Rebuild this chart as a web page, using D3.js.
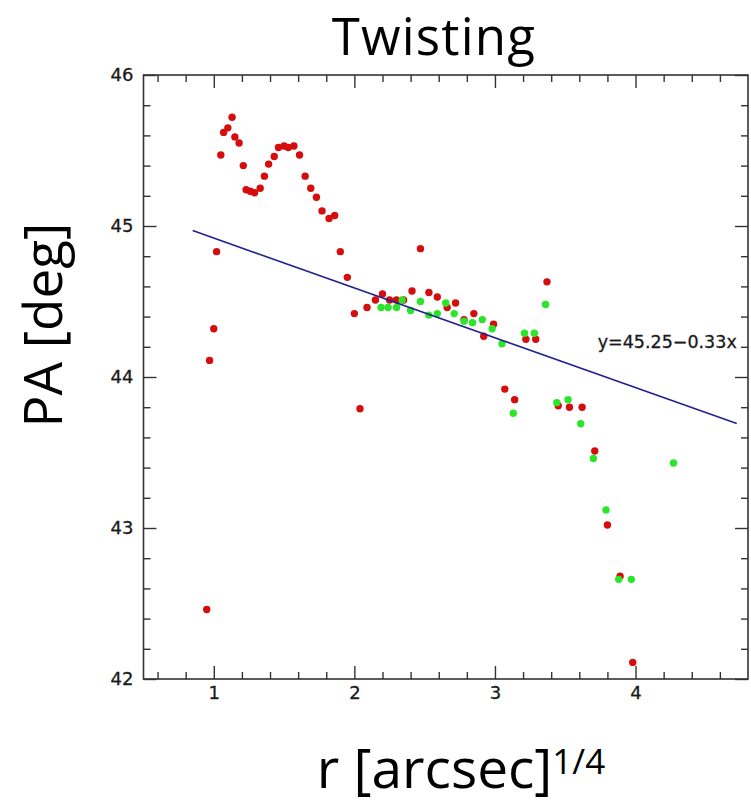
<!DOCTYPE html>
<html>
<head>
<meta charset="utf-8">
<script src="https://cdn.jsdelivr.net/npm/d3@7"></script>
<style>
  html, body { margin: 0; padding: 0; background: #fff; }
  svg { display: block; }
</style>
</head>
<body>
<script>
// Position angle profile vs r^(1/4), two measurement sets plus linear fit
const redR  = [0.95,0.97,1.00,1.02,1.05,1.07,1.10,1.13,1.15,1.18,1.21,1.23,1.26,1.29,1.33,1.36,1.39,1.43,1.46,1.50,1.53,1.57,1.61,1.65,1.69,1.73,1.77,1.82,1.86,1.90,1.95,2.00,2.04,2.09,2.15,2.20,2.25,2.30,2.35,2.41,2.47,2.53,2.59,2.66,2.72,2.78,2.85,2.92,2.99,3.07,3.14,3.22,3.29,3.37,3.45,3.53,3.62,3.71,3.80,3.89,3.98];
const redPA = [42.46,44.11,44.32,44.83,45.47,45.62,45.65,45.72,45.59,45.55,45.40,45.24,45.23,45.22,45.25,45.33,45.41,45.46,45.52,45.53,45.52,45.53,45.47,45.33,45.25,45.19,45.10,45.05,45.07,44.83,44.66,44.42,43.79,44.46,44.51,44.55,44.51,44.51,44.51,44.57,44.85,44.56,44.53,44.46,44.49,44.38,44.42,44.27,44.35,43.92,43.85,44.25,44.25,44.63,43.81,43.80,43.80,43.51,43.02,42.68,42.11];

const greenR  = [2.19,2.24,2.30,2.34,2.40,2.47,2.53,2.59,2.65,2.71,2.78,2.84,2.91,2.98,3.05,3.13,3.21,3.28,3.36,3.44,3.52,3.61,3.70,3.79,3.88,3.97,4.27];
const greenPA = [44.46,44.46,44.46,44.51,44.44,44.50,44.41,44.42,44.49,44.42,44.37,44.36,44.38,44.32,44.22,43.76,44.29,44.29,44.48,43.83,43.85,43.69,43.46,43.12,42.66,42.66,43.43];

// Fit: PA = 45.25 - 0.33 r
const fitIntercept = 45.25;
const fitSlope = -0.33;
const fitRange = [0.85, 4.72];
const fitLabel = "y=45.25\u22120.33x";

const xDomain = [0.5, 4.8];
const yDomain = [42, 46];
const xMajor = [1, 2, 3, 4];
const yMajor = [42, 43, 44, 45, 46];
const xMinor = d3.range(6, 48, 2).map(v => v / 10).filter(v => !xMajor.includes(v));
const yMinor = d3.range(420, 461, 2).map(v => v / 10).filter(v => !yMajor.includes(v));

const W = 751, H = 806;
const plotL = 143.5, plotR = 748, plotT = 75, plotB = 679;

const svg = d3.select("body").append("svg").attr("width", W).attr("height", H);

const x = d3.scaleLinear().domain(xDomain).range([plotL, plotR]);
const y = d3.scaleLinear().domain(yDomain).range([plotB, plotT]);

const axisColor = "#333";
const tickFont = "'DejaVu Sans', sans-serif";

function styleAxis(g) {
  g.select(".domain").remove();
  g.selectAll(".tick line").attr("stroke", axisColor).attr("stroke-width", 1.4);
  g.selectAll(".tick text").attr("fill", "#1a1a1a")
    .attr("stroke", "#1a1a1a").attr("stroke-width", 0.3)
    .style("font-family", tickFont).style("font-size", "18px");
}

// minor ticks on all four sides (pointing inward)
svg.append("g").attr("transform", `translate(0,${plotB})`)
  .call(d3.axisBottom(x).tickValues(xMinor).tickSize(-7).tickFormat("")).call(styleAxis);
svg.append("g").attr("transform", `translate(0,${plotT})`)
  .call(d3.axisTop(x).tickValues(xMinor).tickSize(-7).tickFormat("")).call(styleAxis);
svg.append("g").attr("transform", `translate(${plotL},0)`)
  .call(d3.axisLeft(y).tickValues(yMinor).tickSize(-7).tickFormat("")).call(styleAxis);
svg.append("g").attr("transform", `translate(${plotR},0)`)
  .call(d3.axisRight(y).tickValues(yMinor).tickSize(-7).tickFormat("")).call(styleAxis);

// major ticks, labelled on bottom and left
svg.append("g").attr("transform", `translate(0,${plotB})`)
  .call(d3.axisBottom(x).tickValues(xMajor).tickSize(-13).tickPadding(7).tickFormat(d3.format("d"))).call(styleAxis);
svg.append("g").attr("transform", `translate(0,${plotT})`)
  .call(d3.axisTop(x).tickValues(xMajor).tickSize(-13).tickFormat("")).call(styleAxis);
svg.append("g").attr("transform", `translate(${plotL},0)`)
  .call(d3.axisLeft(y).tickValues(yMajor).tickSize(-13).tickPadding(10).tickFormat(d3.format("d"))).call(styleAxis);
svg.append("g").attr("transform", `translate(${plotR},0)`)
  .call(d3.axisRight(y).tickValues(yMajor).tickSize(-13).tickFormat("")).call(styleAxis);

// frame
svg.append("rect")
  .attr("x", plotL).attr("y", plotT)
  .attr("width", plotR - plotL).attr("height", plotB - plotT)
  .attr("fill", "none").attr("stroke", axisColor).attr("stroke-width", 1.6);

// points: red set first, green set drawn over it
const red = redR.map((r, i) => ({ r, pa: redPA[i] }));
const green = greenR.map((r, i) => ({ r, pa: greenPA[i] }));

svg.append("g").selectAll("circle").data(red).join("circle")
  .attr("cx", d => x(d.r)).attr("cy", d => y(d.pa)).attr("r", 3.7)
  .attr("fill", "#d50d0d");
svg.append("g").selectAll("circle").data(green).join("circle")
  .attr("cx", d => x(d.r)).attr("cy", d => y(d.pa)).attr("r", 3.7)
  .attr("fill", "#2be52b");

// fit line
const fit = fitRange.map(r => ({ r, pa: fitIntercept + fitSlope * r }));
svg.append("path").datum(fit)
  .attr("d", d3.line().x(d => x(d.r)).y(d => y(d.pa)))
  .attr("fill", "none").attr("stroke", "#222290").attr("stroke-width", 1.6);

svg.append("text")
  .attr("x", x(4.72)).attr("y", y(44.19))
  .attr("text-anchor", "end")
  .style("font-family", tickFont).style("font-size", "17.5px")
  .attr("fill", "#1a1a1a").attr("stroke", "#1a1a1a").attr("stroke-width", 0.3)
  .text(fitLabel);

// titles
const labelFont = "'Open Sans', sans-serif";
svg.append("text")
  .attr("x", 434).attr("y", 55)
  .attr("text-anchor", "middle")
  .style("font-family", labelFont).style("font-size", "51px")
  .style("letter-spacing", "1.2px")
  .attr("fill", "#000")
  .text("Twisting");

svg.append("text")
  .attr("transform", "translate(62,325) rotate(-90)")
  .attr("text-anchor", "middle")
  .style("font-family", labelFont).style("font-size", "53px")
  .attr("fill", "#000")
  .text("PA [deg]");

const xl = svg.append("text")
  .attr("x", 461).attr("y", 788)
  .attr("text-anchor", "middle")
  .style("font-family", labelFont).style("font-size", "55px")
  .attr("fill", "#000");
xl.append("tspan").text("r [arcsec]");
xl.append("tspan").attr("dy", -14).style("font-size", "35px").text("1/4");
</script>
</body>
</html>
